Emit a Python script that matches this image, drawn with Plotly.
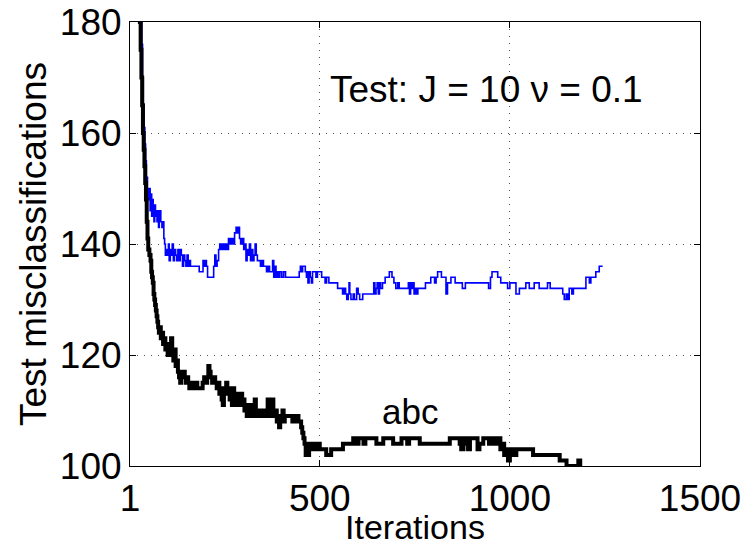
import plotly.graph_objects as go

# ---- data ----
black_iter = [22, 25, 27, 29, 31, 33, 35, 37, 39, 41, 43, 45, 47, 49, 52, 55, 57, 59, 61, 63, 65, 67, 69, 71, 73, 75, 77,
              80, 82, 85, 88, 91, 94, 97, 100, 103, 106, 109, 112, 115, 118, 121, 124, 127, 130, 133, 136, 139, 142, 145,
              148, 151, 154, 157, 161, 165, 170, 174, 178, 183, 188, 192, 196, 200, 204, 207, 210, 213, 217, 221, 225,
              229, 233, 236, 239, 242, 245, 248, 251, 254, 257, 260, 263, 266, 269, 272, 275, 278, 281, 284, 287, 290,
              293, 296, 299, 302, 305, 308, 311, 314, 317, 320, 323, 326, 329, 332, 335, 338, 341, 344, 348, 352, 356,
              360, 363, 366, 369, 372, 375, 378, 381, 384, 387, 390, 393, 396, 399, 402, 405, 408, 412, 418, 424, 428,
              432, 436, 440, 444, 448, 451, 454, 457, 460, 463, 466, 469, 472, 476, 480, 484, 488, 492, 496,
              500, 512, 517, 530, 561, 588, 598, 602, 615, 620, 636, 649, 667, 680, 693, 715, 730, 735, 763, 842, 860,
              868, 872, 878, 885, 890, 895, 910, 915, 920, 930, 945, 950, 960, 970, 975, 980, 985, 990, 995, 1000,
              1005, 1012, 1017, 1061, 1131, 1149, 1180, 1185, 1190]
black_val = [190, 184, 180, 175, 170, 165, 160, 157, 154, 151, 148, 144, 141, 139, 138, 137, 135, 134, 133, 131, 130, 129,
             128, 127, 126, 125, 124,
             125, 123, 124, 122, 123, 121, 122, 120, 122, 121, 123, 120, 119, 121, 118, 119, 117, 116, 115, 117, 116, 117,
             116, 115, 116, 115, 114, 115, 114, 114, 115, 114, 114, 114, 115, 116, 115, 116, 118, 117, 116, 115, 116,
             115, 114, 115, 113, 114, 112, 111, 114, 113, 115, 113, 114, 112, 113, 111, 114, 112, 111, 113, 111, 112,
             111, 113, 111, 112, 110, 111, 109, 110, 111, 109, 110, 109, 111, 112, 110, 109, 110, 109, 110, 109, 110,
             109, 110, 112, 110, 109, 111, 112, 110, 109, 110, 108, 109, 107, 109, 108, 110, 108, 109, 109, 109, 109,
             108, 109, 108, 109, 108, 108, 107, 106, 105, 104, 102, 103, 102, 104, 103, 104, 103, 104, 103, 104,
             103, 103, 102, 103, 104, 105, 104, 105, 104, 105, 105, 104, 105, 105, 104, 105, 104, 105, 104, 105, 105,
             104, 103, 105, 104, 103, 105, 105, 103, 104, 105, 104, 105, 104, 105, 103, 104, 102, 103, 101, 102,
             103, 102, 103, 102, 101, 100, 101, 100, 100]

blue_iter = [28, 30, 32, 34, 36, 38, 40, 42, 44, 47, 50, 52, 54, 56, 58, 60, 62, 64, 66, 68, 70, 72, 74, 76, 78, 80, 82,
             85, 88, 90, 92, 94, 97, 100, 102, 104, 107, 110, 112, 115, 118, 121, 124, 127, 130, 133, 136, 139, 142, 145,
             148, 151, 154, 157, 160, 165, 170, 176, 183, 190, 193, 196, 199, 202, 205, 212, 218, 221, 224, 227, 230,
             234, 237, 240, 244, 248, 252, 256, 260, 264, 268, 272, 276, 280, 283, 286, 289, 292, 296, 300, 303, 306,
             309, 312, 315, 318, 321, 324, 327, 330, 333, 336, 340, 344, 348, 352, 356, 360, 364, 368, 372, 376, 379,
             382, 385, 388, 391, 395, 400, 405, 410, 416, 422, 428, 434, 440, 446, 449, 452, 455, 459, 462, 465, 467,
             469, 472, 475, 478, 481, 486, 490, 494, 500, 505, 510, 514, 518, 524, 530, 534, 547, 556, 560, 564, 568,
             571, 575, 577, 579, 582, 588, 591, 597, 601, 605, 613, 628, 639, 642, 645, 648, 651, 654, 657, 660, 665,
             672, 683, 690, 695, 700, 705, 709, 730, 733, 736, 739, 742, 745, 748, 752, 755, 758, 775, 778, 788, 792,
             798, 802, 806, 810, 818, 820, 830, 832, 836, 841, 845, 856, 875, 883, 944, 949, 953, 968, 976, 994, 1000,
             1016, 1025, 1042, 1051, 1064, 1077, 1099, 1106, 1139, 1143, 1148, 1152, 1156, 1163, 1167, 1200, 1209,
             1213, 1226, 1235, 1244]
blue_val = [188, 182, 176, 170, 165, 161, 158, 155, 152, 150, 148, 150, 146, 149, 145, 148, 146, 144, 147, 145, 146, 144,
            146, 143, 145, 146, 144,
            143, 144, 141, 140, 138, 139, 138, 140, 137, 139, 138, 140, 137, 139, 138, 137, 139, 137, 139, 138, 136, 138,
            137, 136, 138, 136, 137, 136, 136, 136, 136, 135, 135, 137, 136, 137, 136, 134, 134, 134, 136, 138, 136, 137,
            139, 140, 139, 140, 139, 140, 139, 141, 140, 141, 140, 142, 143, 142, 143, 141, 140, 141, 139, 140, 137,
            139, 138, 140, 137, 139, 137, 138, 140, 138, 137, 137, 136, 137, 136, 136, 135, 136, 135, 135, 137, 134,
            136, 134, 135, 134, 135, 134, 135, 134, 134, 134, 134, 134, 134, 135, 136, 135, 136, 136, 135, 134, 135,
            133, 135, 134, 133, 135, 135, 134, 135, 135, 134, 134, 133, 134, 133, 133, 133, 132, 132, 131, 132, 131,
            130, 131, 133, 131, 130, 131, 130, 132, 131, 130, 131, 131, 131, 133, 131, 132, 133, 131, 133, 132, 133,
            134, 135, 134, 133, 132, 133, 132, 132, 133, 131, 133, 132, 133, 131, 132, 131, 132, 132, 133, 133, 134,
            134, 133, 134, 135, 135, 134, 134, 131, 133, 133, 134, 133, 132, 133, 132, 134, 135, 134, 133, 132, 133,
            131, 132, 133, 132, 133, 132, 133, 132, 131, 130, 131, 130, 132, 131, 132, 134, 133,
            134, 135, 136, 136]

x_ticks = [1, 500, 1000, 1500]
x_ticklabels = ["1", "500", "1000", "1500"]
y_ticks = [100, 120, 140, 160, 180]

FONT = "Liberation Sans, Arial, sans-serif"
FS = 37

fig = go.Figure()
fig.add_trace(go.Scatter(x=blue_iter, y=blue_val, mode="lines", line_shape="hv",
                         line=dict(color="#0000ff", width=1.6), showlegend=False))
fig.add_trace(go.Scatter(x=black_iter, y=black_val, mode="lines", line_shape="hv",
                         line=dict(color="#000000", width=4), showlegend=False))

fig.add_annotation(x=938, y=167.8, text="Test: J = 10 \u03bd = 0.1", showarrow=False,
                   font=dict(family=FONT, size=FS, color="black"))
fig.add_annotation(x=737, y=109.8, text="abc", showarrow=False,
                   font=dict(family=FONT, size=35, color="black"))

axis_common = dict(showline=True, linecolor="black", linewidth=1, mirror="ticks",
                   ticks="inside", ticklen=6, tickcolor="black", automargin=False,
                   ticklabeloverflow="allow",
                   showgrid=True, gridcolor="#555555", griddash="1px,6px", gridwidth=1.2,
                   zeroline=False, tickfont=dict(family=FONT, size=FS, color="black"))

fig.update_xaxes(range=[1, 1500], tickvals=x_ticks, ticktext=x_ticklabels,
                 title=dict(text="Iterations", font=dict(family=FONT, size=34, color="black"), standoff=0),
                 **axis_common)
fig.update_yaxes(range=[100, 180], tickvals=y_ticks,
                 title=dict(text="Test misclassifications", font=dict(family=FONT, size=FS, color="black"), standoff=1),
                 **axis_common)

fig.update_layout(width=749, height=546, margin=dict(l=130, r=49, t=22, b=80),
                  paper_bgcolor="white", plot_bgcolor="white")

# remove the default 8px page margin so the figure fills the window exactly
fig.write_html("out.html", config={"displayModeBar": False},
               post_script="document.body.style.margin='0';document.body.style.overflow='hidden';")
